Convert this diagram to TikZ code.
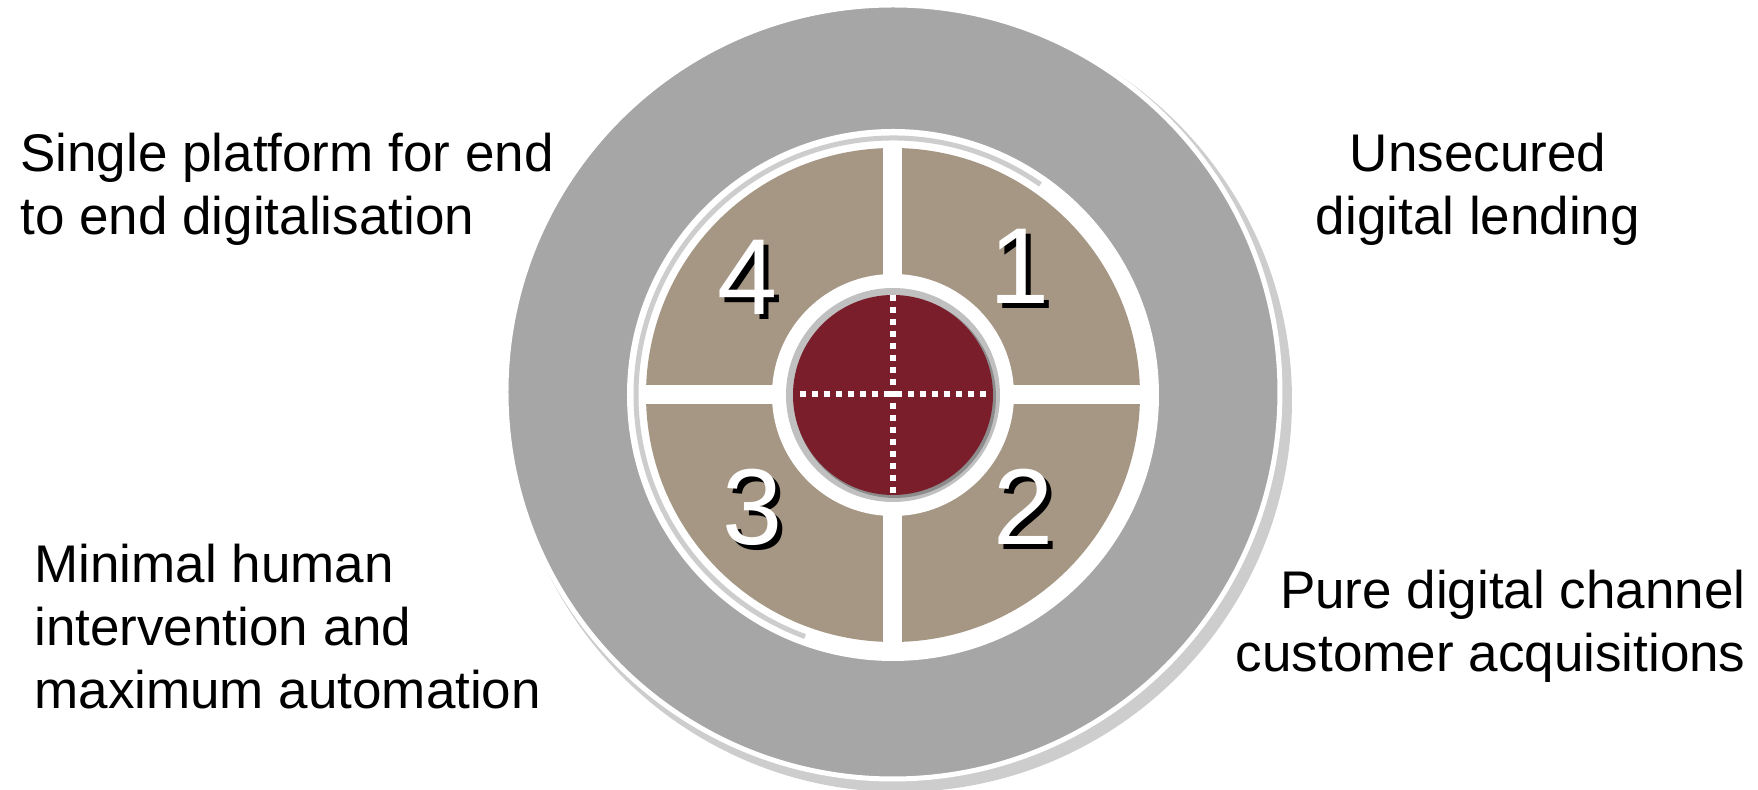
\documentclass[tikz,border=0pt]{standalone}
\usepackage{fontspec}
\setmainfont{Liberation Sans}
\usepackage{xcolor}
\usepackage{tikz}
\usetikzlibrary{positioning, calc}
\definecolor{mygray}{RGB}{166,166,166}
\definecolor{myshade}{RGB}{205,205,205}
\definecolor{mytan}{RGB}{166,151,132}
\definecolor{myred}{RGB}{123,30,43}
\definecolor{myring}{RGB}{192,192,192}
\definecolor{mydark}{RGB}{140,140,140}
\tikzset{
  sidetext/.style={font=\fontsize{26.5}{31.5}\selectfont, inner sep=0pt, text=black},
  numtext/.style={font=\fontsize{54}{54}\selectfont, inner sep=0pt},
  bar/.style={draw=white, line width=9.5pt},
  dots/.style={draw=white, line width=3pt, dash pattern=on 3pt off 3pt}
}

\begin{document}
\begin{tikzpicture}[x=0.5pt, y=0.5pt]
  \useasboundingbox (-893,-395) rectangle (865,395);

  % outer disc and its shadow
  \fill [myshade] (7,-5) circle (392);
  \draw [draw=white, line width=2.5pt, fill=mygray] (0,3) circle (387);

  % quadrant ring
  \fill [white] (0,0) circle (266);
  \draw [myshade, line width=2.5pt] (55:257) arc [start angle=55, end angle=250, radius=257];
  \fill [mytan] (0,0) circle (247);
  \draw [bar] (-250,0) -- (250,0);
  \draw [bar] (0,-250) -- (0,250);

  % centre
  \fill [white] (0,0) circle (121);
  \fill [myring] (0,0) circle (107);
  \fill [mydark] (2,-2) circle (101);
  \fill [myred] (0,0) circle (100);
  \draw [dots] (0,100) -- (0,-100);
  \draw [dots] (-93,1) -- (95,1);

  \node [numtext, text=black] (s1) at (132,124) {1};
  \node [numtext, text=white] (n1) at (127,129) {1};
  \node [numtext, text=black] (s2) at (136,-117) {2};
  \node [numtext, text=white] (n2) at (131,-112) {2};
  \node [numtext, text=black] (s3) at (-135,-117) {3};
  \node [numtext, text=white] (n3) at (-140,-112) {3};
  \node [numtext, text=black] (s4) at (-140,113) {4};
  \node [numtext, text=white] (n4) at (-145,118) {4};

  \node [sidetext, align=left, anchor=west] (single) at (-873,206) {Single platform for end\\to end digitalisation};
  \node [sidetext, align=center] (unsec) at (585,206) {Unsecured\\digital lending};
  \node [sidetext, align=left, anchor=west] (minimal) at (-859,-232) {Minimal human\\intervention and\\maximum automation};
  \node [sidetext, align=right, anchor=east] (pure) at (853,-231) {Pure digital channel\\customer acquisitions};
\end{tikzpicture}
\end{document}
